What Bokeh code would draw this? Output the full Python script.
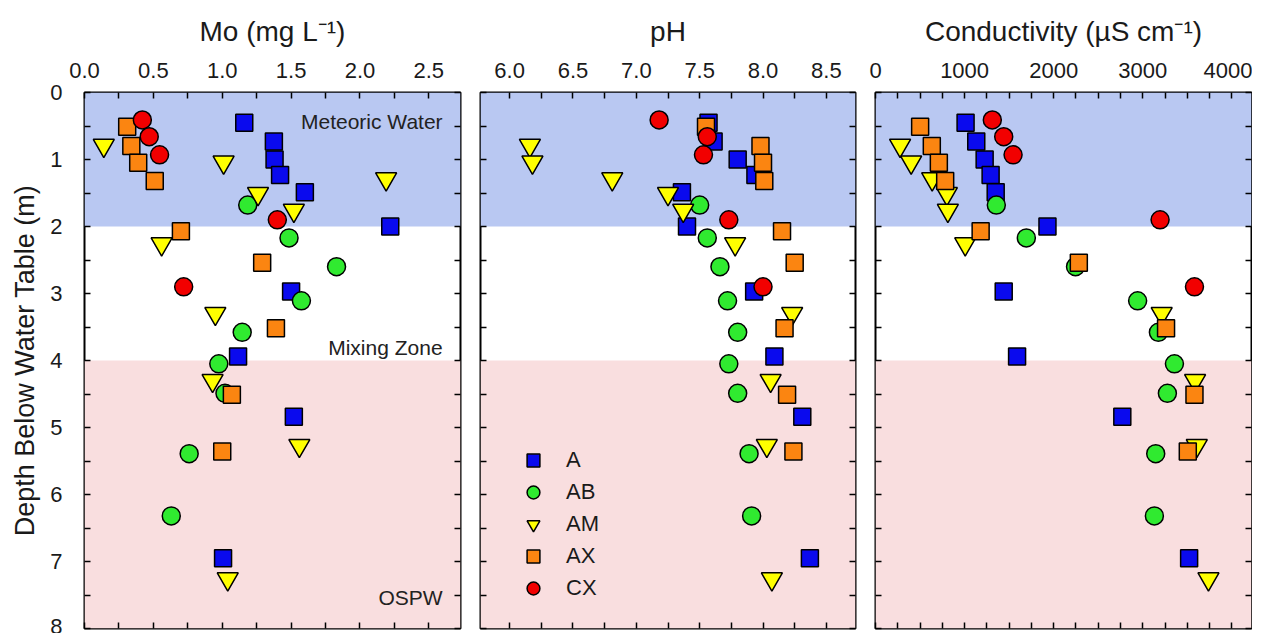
from bokeh.plotting import figure
from bokeh.layouts import row
from bokeh.models import (Range1d, LinearAxis, FixedTicker, Legend, LegendItem,
                          Label, ColumnDataSource, NumeralTickFormatter,
                          CustomJSTickFormatter)
from bokeh.embed import file_html
from bokeh.resources import INLINE

# ---------------- data ----------------
series = ["A", "AB", "AM", "AX", "CX"]

A_depth = [0.45, 0.73, 1.00, 1.23, 1.49, 2.00, 2.97, 3.94, 4.84, 6.95]
A_mo = [1.16, 1.375, 1.38, 1.42, 1.60, 2.22, 1.50, 1.115, 1.52, 1.006]
A_ph = [7.57, 7.61, 7.80, 7.94, 7.36, 7.40, 7.93, 8.09, 8.31, 8.37]
A_ec = [1011, 1131, 1225, 1292, 1349, 1930, 1439, 1589, 2770, 3520]

AB_depth = [1.68, 2.17, 2.60, 3.11, 3.58, 4.05, 4.49, 5.39, 6.32]
AB_mo = [1.185, 1.485, 1.83, 1.575, 1.145, 0.975, 1.02, 0.76, 0.63]
AB_ph = [7.50, 7.56, 7.66, 7.72, 7.80, 7.73, 7.80, 7.89, 7.91]
AB_ec = [1356, 1693, 2245, 2942, 3175, 3355, 3276, 3145, 3130]

AM_depth = [0.79, 1.04, 1.29, 1.51, 1.76, 2.26, 3.30, 4.30, 5.27, 7.26]
AM_mo = [0.14, 1.01, 2.19, 1.26, 1.52, 0.56, 0.95, 0.93, 1.56, 1.04]
AM_ph = [6.16, 6.18, 6.81, 7.25, 7.37, 7.78, 8.23, 8.06, 8.03, 8.07]
AM_ec = [276, 400, 636, 801, 812, 1007, 3212, 3587, 3606, 3737]

AX_depth = [0.51, 0.80, 1.05, 1.32, 2.07, 2.54, 3.52, 4.51, 5.36]
AX_mo = [0.31, 0.34, 0.39, 0.51, 0.70, 1.29, 1.39, 1.07, 1.00]
AX_ph = [7.55, 7.98, 8.00, 8.01, 8.15, 8.25, 8.17, 8.19, 8.24]
AX_ec = [501, 632, 711, 782, 1180, 2282, 3261, 3580, 3505]

CX_depth = [0.41, 0.66, 0.93, 1.90, 2.90]
CX_mo = [0.42, 0.47, 0.545, 1.40, 0.72]
CX_ph = [7.18, 7.56, 7.53, 7.73, 8.00]
CX_ec = [1311, 1439, 1544, 3194, 3580]

zone_names = ["Meteoric Water", "Mixing Zone", "OSPW"]
zone_top = [0, 2, 4]
zone_bottom = [2, 4, 8]

depth_ticks = [0, 1, 2, 3, 4, 5, 6, 7, 8]
mo_ticks = [0.0, 0.5, 1.0, 1.5, 2.0, 2.5]
ph_ticks = [6.0, 6.5, 7.0, 7.5, 8.0, 8.5]
ec_ticks = [0, 1000, 2000, 3000, 4000]

# ---------------- styles ----------------
FONT = "Liberation Sans"
TXT = "#1a1a1a"
zone_colors = ["#b9c8f2", None, "#f9dedf"]
styles = {
    "A": dict(marker="square", color="#0a0aee", size=17),
    "AB": dict(marker="circle", color="#30ea30", size=18),
    "AM": dict(marker="inverted_triangle", color="#ffff00", size=21),
    "AX": dict(marker="square", color="#fb8511", size=17),
    "CX": dict(marker="circle", color="#f20000", size=18),
}
depths = {"A": A_depth, "AB": AB_depth, "AM": AM_depth, "AX": AX_depth, "CX": CX_depth}
values = {
    "mo": {"A": A_mo, "AB": AB_mo, "AM": AM_mo, "AX": AX_mo, "CX": CX_mo},
    "ph": {"A": A_ph, "AB": AB_ph, "AM": AM_ph, "AX": AX_ph, "CX": CX_ph},
    "ec": {"A": A_ec, "AB": AB_ec, "AM": AM_ec, "AX": AX_ec, "CX": CX_ec},
}


def style_axis(ax, hide_labels=False):
    ax.axis_line_color = None
    ax.major_tick_in = 6
    ax.major_tick_out = 0
    ax.minor_tick_in = 6
    ax.minor_tick_out = 0
    ax.major_tick_line_color = "black"
    ax.minor_tick_line_color = "black"
    ax.major_tick_line_width = 1.5
    ax.minor_tick_line_width = 1.5
    ax.major_label_text_font = FONT
    ax.major_label_text_color = TXT
    ax.major_label_text_font_size = "22px"
    ax.axis_label_text_font = FONT
    ax.axis_label_text_font_style = "normal"
    ax.axis_label_text_color = TXT
    ax.axis_label_text_font_size = "28px"
    if hide_labels:
        ax.formatter = CustomJSTickFormatter(code="return ''")
        ax.major_label_standoff = 0
        ax.axis_label = None


def make_panel(key, xr, xticks, xminor, xfmt, xlabel, left_border, right_border, frame_w, first):
    p = figure(frame_width=frame_w, frame_height=536,
               x_range=Range1d(*xr), y_range=Range1d(8, 0),
               x_axis_location="above", y_axis_location="left",
               output_backend="svg", toolbar_location=None,
               min_border_left=left_border, min_border_right=right_border,
               min_border_top=92, min_border_bottom=5)
    p.outline_line_color = "black"
    p.outline_line_width = 2
    p.xgrid.visible = False
    p.ygrid.visible = False
    p.background_fill_color = "white"
    p.border_fill_color = "white"

    # zone bands
    zsrc = ColumnDataSource(dict(
        top=[t for t, c in zip(zone_top, zone_colors) if c],
        bottom=[b for b, c in zip(zone_bottom, zone_colors) if c],
        color=[c for c in zone_colors if c]))
    p.quad(left=xr[0], right=xr[1], top="top", bottom="bottom",
           fill_color="color", line_color=None, source=zsrc)

    xt = FixedTicker(ticks=xticks, minor_ticks=xminor)
    yt = FixedTicker(ticks=depth_ticks, minor_ticks=[d + 0.5 for d in depth_ticks[:-1]])

    xa = p.xaxis[0]
    xa.ticker = xt
    if xfmt:
        xa.formatter = NumeralTickFormatter(format=xfmt)
    xa.axis_label = xlabel
    xa.major_label_standoff = 15
    xa.axis_label_standoff = 13
    style_axis(xa)

    ya = p.yaxis[0]
    ya.ticker = yt
    style_axis(ya, hide_labels=not first)
    if first:
        ya.axis_label = "Depth Below Water Table (m)"
        ya.axis_label_text_font_size = "27px"
        ya.major_label_standoff = 22
        ya.axis_label_standoff = 7

    xb = LinearAxis(ticker=xt)
    style_axis(xb, hide_labels=True)
    p.add_layout(xb, "below")
    yr = LinearAxis(ticker=yt)
    style_axis(yr, hide_labels=True)
    p.add_layout(yr, "right")

    rends = {}
    for s in series:
        st = styles[s]
        rends[s] = p.scatter(x=values[key][s], y=depths[s], marker=st["marker"],
                             size=st["size"], fill_color=st["color"],
                             line_color="black", line_width=1.5)
    return p, rends


mo_minor = [0.25, 0.75, 1.25, 1.75, 2.25]
ph_minor = [5.75, 6.25, 6.75, 7.25, 7.75, 8.25]
ec_minor = [250, 500, 750, 1250, 1500, 1750, 2250, 2500, 2750, 3250, 3500, 3750, 4250]

p1, r1 = make_panel("mo", (0, 2.73), mo_ticks, mo_minor, "0.0", "Mo (mg L\u207b\u00b9)", 84, 10, 376, True)
p2, r2 = make_panel("ph", (5.77, 8.73), ph_ticks, ph_minor, "0.0", "pH", 10, 10, 375, False)
p3, r3 = make_panel("ec", (0, 4220), ec_ticks, ec_minor, None, "Conductivity (\u00b5S cm\u207b\u00b9)", 10, 1, 376, False)

# zone labels
zone_label_pos = [(2.6, 0.44), (2.6, 3.8), (2.6, 7.53)]
for name, (lx, ly) in zip(zone_names, zone_label_pos):
    p1.add_layout(Label(x=lx, y=ly, text=name, text_align="right", text_baseline="middle",
                        text_font=FONT, text_font_size="21px", text_color="#222222"))

legend = Legend(items=[LegendItem(label=s, renderers=[r2[s]]) for s in series],
                location=(37, 24), orientation="vertical",
                glyph_width=32, glyph_height=32, spacing=0, label_height=32,
                label_standoff=17, label_text_font=FONT, label_text_font_size="22px",
                label_text_color=TXT, padding=0, margin=0,
                border_line_color=None, background_fill_alpha=0)
p2.add_layout(legend)

layout = row(p1, p2, p3)
open("out.html", "w").write(file_html(layout, INLINE))
